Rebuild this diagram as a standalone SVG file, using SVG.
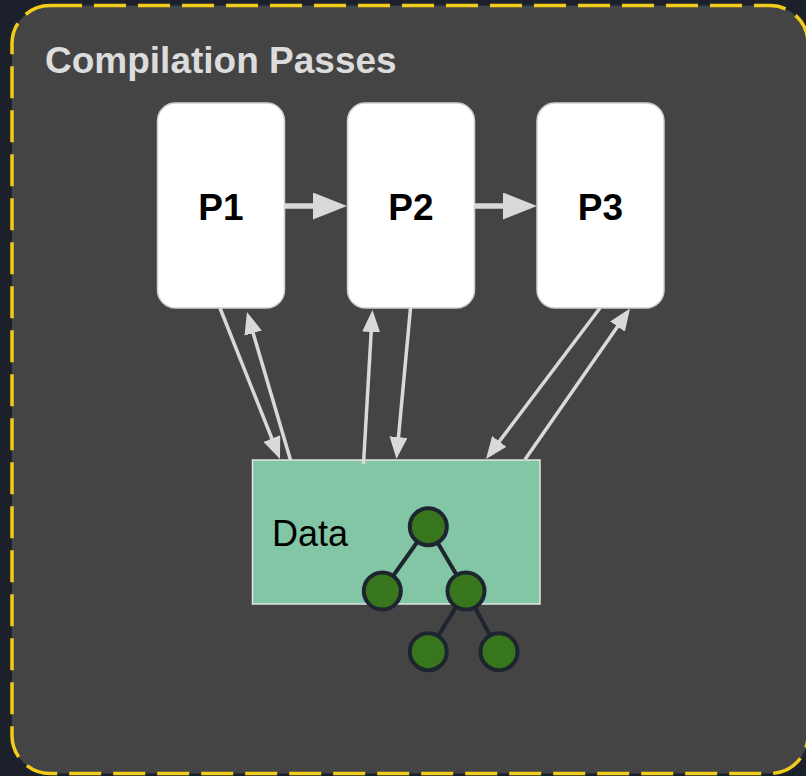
<svg xmlns="http://www.w3.org/2000/svg" width="806" height="776" viewBox="0 0 806 776">
  <style>
    .title { font-family: "Liberation Sans", Arial, sans-serif; font-weight: bold; font-size: 37px; fill: #dcdcdc; }
    .pass rect { fill: #ffffff; stroke: #cfcfcf; stroke-width: 1.5; }
    .pass text { font-family: "Liberation Sans", Arial, sans-serif; font-weight: bold; font-size: 37px; fill: #000000; text-anchor: middle; }
    .data-label { font-family: "Liberation Sans", Arial, sans-serif; font-size: 36px; fill: #000000; }
    .flow { stroke: #d9d9d9; stroke-width: 5.5; fill: none; marker-end: url(#headBig); }
    .link { stroke: #d9d9d9; stroke-width: 3.5; fill: none; marker-end: url(#headSmall); }
    .tree-edge { stroke: #1e2430; stroke-width: 4; }
    .tree-node { fill: #38761d; stroke: #1e2430; stroke-width: 4; }
  </style>
  <defs>
    <marker id="headBig" markerUnits="userSpaceOnUse" markerWidth="34" markerHeight="27" refX="1" refY="13.5" orient="auto">
      <path d="M0,0 L34,13.5 L0,27 z" fill="#d9d9d9"/>
    </marker>
    <marker id="headSmall" markerUnits="userSpaceOnUse" markerWidth="22" markerHeight="18" refX="2" refY="9" orient="auto">
      <path d="M0,0 L22,9 L0,18 z" fill="#d9d9d9"/>
    </marker>
  </defs>

  <!-- page background -->
  <rect x="0" y="0" width="806" height="776" fill="#1b202b"/>

  <!-- container -->
  <g id="container">
    <rect x="12" y="5.5" width="796" height="768" rx="38" ry="38" fill="#444444" stroke="#f1cc19" stroke-width="3.5" stroke-dasharray="32 12"/>
    <text class="title" x="45" y="73">Compilation Passes</text>
  </g>

  <!-- shared data block -->
  <g id="data">
    <rect x="252.5" y="460" width="287.5" height="144" fill="#82c6a6" stroke="#e2e2e2" stroke-width="1.5"/>
    <text class="data-label" x="272" y="546">Data</text>
  </g>

  <!-- passes -->
  <g id="p1" class="pass">
    <rect x="157.5" y="103" width="127" height="205" rx="18" ry="18"/>
    <text x="221" y="220">P1</text>
  </g>
  <g id="p2" class="pass">
    <rect x="347.5" y="103" width="127" height="205" rx="18" ry="18"/>
    <text x="411" y="220">P2</text>
  </g>
  <g id="p3" class="pass">
    <rect x="537" y="103" width="127" height="205" rx="18" ry="18"/>
    <text x="600.5" y="220">P3</text>
  </g>

  <!-- connectors -->
  <g id="connectors">
    <line class="flow" x1="284.5" y1="206" x2="314" y2="206"/>
    <line class="flow" x1="474.5" y1="206" x2="504" y2="206"/>

    <line class="link" x1="220" y1="308" x2="272.6" y2="440.4"/>
    <line class="link" x1="290.5" y1="460" x2="252.6" y2="331.2"/>
    <line class="link" x1="363.5" y1="464" x2="371.3" y2="330"/>
    <line class="link" x1="410.5" y1="308" x2="398.3" y2="439.1"/>
    <line class="link" x1="600" y1="308" x2="498.1" y2="443"/>
    <line class="link" x1="525" y1="459.5" x2="618.6" y2="324.9"/>
  </g>

  <!-- tree held by the data block -->
  <g id="tree">
    <line class="tree-edge" x1="428.3" y1="526.7" x2="382.3" y2="591"/>
    <line class="tree-edge" x1="428.3" y1="526.7" x2="466" y2="591"/>
    <line class="tree-edge" x1="466" y1="591" x2="428.3" y2="651.7"/>
    <line class="tree-edge" x1="466" y1="591" x2="499" y2="651.7"/>
    <circle class="tree-node" cx="428.3" cy="526.7" r="18.5"/>
    <circle class="tree-node" cx="382.3" cy="591" r="18.5"/>
    <circle class="tree-node" cx="466" cy="591" r="18.5"/>
    <circle class="tree-node" cx="428.3" cy="651.7" r="18.5"/>
    <circle class="tree-node" cx="499" cy="651.7" r="18.5"/>
  </g>
</svg>
